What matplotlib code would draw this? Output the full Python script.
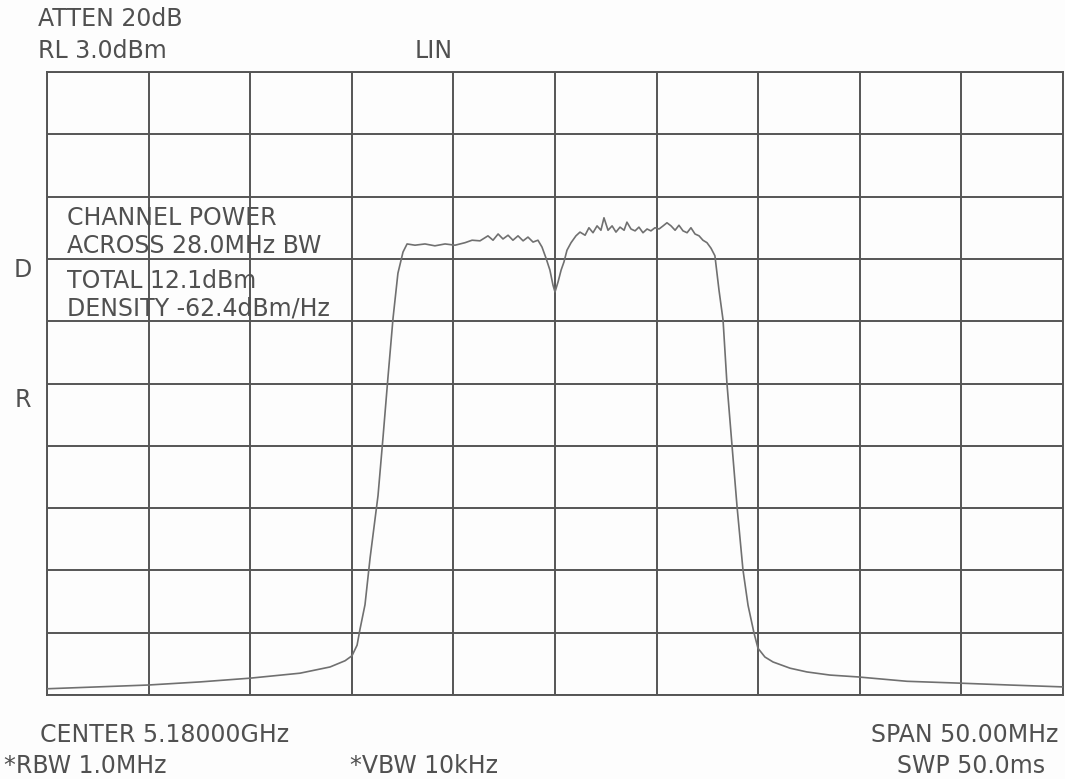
import numpy as np
import matplotlib
matplotlib.use("Agg")
import matplotlib.pyplot as plt

# analyzer settings
center_mhz = 5180.0
span_mhz = 50.0
n_div = 10

# trace: frequency (MHz) and level (graticule divisions)
freq_mhz = [5155.00, 5159.97, 5162.53, 5164.99, 5167.45, 5168.93, 5169.67, 5170.01,
            5170.26, 5170.40, 5170.65, 5170.90, 5171.29, 5171.54, 5171.78, 5172.03,
            5172.27, 5172.52, 5172.72, 5173.11, 5173.60, 5174.09, 5174.59, 5175.08,
            5175.57, 5175.92, 5176.31, 5176.70, 5176.95, 5177.20, 5177.44, 5177.69,
            5177.93, 5178.18, 5178.43, 5178.67, 5178.92, 5179.16, 5179.36, 5179.56,
            5179.75, 5179.90, 5180.00, 5180.15, 5180.30, 5180.44, 5180.59, 5180.79,
            5181.03, 5181.23, 5181.48, 5181.67, 5181.87, 5182.07, 5182.26, 5182.41,
            5182.61, 5182.81, 5183.00, 5183.20, 5183.40, 5183.54, 5183.74, 5183.94,
            5184.13, 5184.33, 5184.53, 5184.72, 5184.92, 5185.12, 5185.32, 5185.51,
            5185.71, 5185.91, 5186.10, 5186.30, 5186.50, 5186.69, 5186.89, 5187.09,
            5187.28, 5187.48, 5187.68, 5187.87, 5188.07, 5188.27, 5188.46, 5188.71,
            5188.96, 5189.25, 5189.50, 5189.79, 5189.99, 5190.33, 5190.73, 5191.57,
            5192.40, 5193.53, 5194.91, 5197.32, 5199.93, 5202.39, 5205.00]
level_div = [0.10, 0.16, 0.21, 0.27, 0.35, 0.45, 0.55, 0.63,
             0.80, 1.05, 1.45, 2.20, 3.20, 4.15, 5.10, 6.05,
             6.77, 7.11, 7.24, 7.22, 7.24, 7.21, 7.24, 7.22,
             7.26, 7.30, 7.29, 7.37, 7.30, 7.40, 7.32, 7.38,
             7.30, 7.37, 7.29, 7.35, 7.27, 7.30, 7.19, 7.01,
             6.82, 6.58, 6.47, 6.63, 6.82, 6.95, 7.14, 7.26,
             7.37, 7.43, 7.38, 7.50, 7.42, 7.53, 7.46, 7.66,
             7.46, 7.53, 7.43, 7.51, 7.46, 7.59, 7.48, 7.45,
             7.51, 7.42, 7.48, 7.45, 7.50, 7.48, 7.53, 7.58,
             7.53, 7.46, 7.54, 7.45, 7.42, 7.50, 7.40, 7.37,
             7.30, 7.26, 7.17, 7.05, 6.50, 6.02, 5.01, 4.01,
             3.02, 2.01, 1.44, 1.00, 0.75, 0.61, 0.53, 0.43,
             0.37, 0.32, 0.29, 0.22, 0.19, 0.16, 0.13]

header_lines = ["ATTEN 20dB", "RL 3.0dBm"]
scale_mode = "LIN"
marker_lines = ["CHANNEL POWER", "ACROSS 28.0MHz BW", "TOTAL 12.1dBm", "DENSITY -62.4dBm/Hz"]
footer_left = ["CENTER 5.18000GHz", "*RBW 1.0MHz"]
footer_mid = "*VBW 10kHz"
footer_right = ["SPAN 50.00MHz", "SWP 50.0ms"]

ink = "#505050"
grid_col = "#555555"
trace_col = "#707070"
fs = 17

plt.rcParams['font.family'] = ['DejaVu Sans']

fig = plt.figure(figsize=(10.65, 7.79), dpi=100)
fig.patch.set_facecolor("#fdfdfd")
ax = fig.add_axes([47 / 1065, 84 / 779, 1016 / 1065, 623 / 779])
ax.set_facecolor("#fdfdfd")

f_lo = center_mhz - span_mhz / 2
f_hi = center_mhz + span_mhz / 2
ax.set_xlim(f_lo, f_hi)
ax.set_ylim(0, n_div)
ax.set_xticks(np.linspace(f_lo, f_hi, n_div + 1))
ax.set_yticks(np.arange(0, n_div + 1))
ax.tick_params(length=0, labelbottom=False, labelleft=False)
ax.grid(True, color=grid_col, linewidth=1.4)
for s in ax.spines.values():
    s.set_color(grid_col)
    s.set_linewidth(1.4)

ax.plot(freq_mhz, level_div, color=trace_col, linewidth=1.2, zorder=3)

# annotations inside the graticule
for i, line in enumerate(marker_lines):
    y = [7.65, 7.2, 6.65, 6.2][i]
    ax.text(0.02, y / n_div, line, transform=ax.transAxes, fontsize=fs,
            color=ink, va="center", ha="left", zorder=4)

# header
fig.text(38 / 1065, 1 - 19 / 779, header_lines[0], fontsize=fs, color=ink, va="center")
fig.text(38 / 1065, 1 - 51 / 779, header_lines[1], fontsize=fs, color=ink, va="center")
fig.text(415 / 1065, 1 - 51 / 779, scale_mode, fontsize=fs, color=ink, va="center")

# side letters
fig.text(23 / 1065, 1 - 270 / 779, "D", fontsize=fs, color=ink, va="center", ha="center")
fig.text(23 / 1065, 1 - 400 / 779, "R", fontsize=fs, color=ink, va="center", ha="center")

# footer
fig.text(40 / 1065, 1 - 735 / 779, footer_left[0], fontsize=fs, color=ink, va="center")
fig.text(4 / 1065, 1 - 766 / 779, footer_left[1], fontsize=fs, color=ink, va="center")
fig.text(350 / 1065, 1 - 766 / 779, footer_mid, fontsize=fs, color=ink, va="center")
fig.text(1058 / 1065, 1 - 735 / 779, footer_right[0], fontsize=fs, color=ink, va="center", ha="right")
fig.text(1045 / 1065, 1 - 766 / 779, footer_right[1], fontsize=fs, color=ink, va="center", ha="right")

fig.savefig("out.png", dpi=100, facecolor=fig.get_facecolor())
